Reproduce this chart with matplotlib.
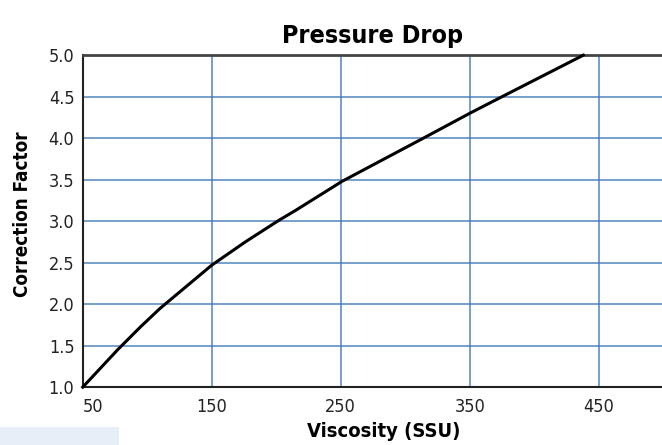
#Pressure drop correction factor vs viscosity chart
import matplotlib
matplotlib.use('Agg')
import matplotlib.pyplot as plt
from matplotlib.patches import Rectangle

# values
viscosity = [50, 77, 95, 110, 150, 176, 202, 215, 251, 314, 350, 375, 438]
correction = [1.0, 1.45, 1.73, 1.95, 2.47, 2.75, 3.01, 3.13, 3.48, 4.0, 4.30, 4.5, 5.0]

x_ticks = [50, 150, 250, 350, 450]
y_ticks = [1.0, 1.5, 2.0, 2.5, 3.0, 3.5, 4.0, 4.5, 5.0]

plt.rcParams['font.family'] = ['DejaVu Sans']
plt.rcParams['font.stretch'] = 'condensed'

grid_blue = '#3f78b9'

fig = plt.figure(figsize=(6.62, 4.45), dpi=100)
ax = fig.add_axes([0.125, 0.130, 0.877, 0.746])

ax.plot(viscosity, correction, color='black', lw=2.2, solid_joinstyle='round',
        zorder=3, clip_on=False)

ax.set_xlim(50, 500)
ax.set_ylim(1.0, 5.0)
ax.set_xticks(x_ticks)
ax.set_yticks(y_ticks)
ax.set_yticklabels(['%.1f' % v for v in y_ticks])
ax.grid(True, color=grid_blue, lw=1.1, alpha=0.9)
ax.set_axisbelow(True)
ax.tick_params(length=0, labelsize=13, labelcolor='#222222')
ax.tick_params(axis='x', pad=8)
ax.tick_params(axis='y', pad=6)
ax.get_xticklabels()[0].set_horizontalalignment('left')

for side in ['left', 'bottom']:
    ax.spines[side].set_color('#222222')
    ax.spines[side].set_linewidth(1.5)
ax.spines['top'].set_color('#444444')
ax.spines['top'].set_linewidth(2.0)
ax.spines['right'].set_visible(False)

ax.set_title('Pressure Drop', fontsize=18, fontweight='bold', pad=9)
ax.set_xlabel('Viscosity (SSU)', fontsize=14.5, fontweight='bold')
ax.set_ylabel('Correction Factor', fontsize=13.5, fontweight='bold')
ax.xaxis.set_label_coords(0.518, -0.105)
ax.yaxis.set_label_coords(-0.088, 0.52)

# faint box in the lower left corner of the original image
fig.patches.append(Rectangle((0, 0), 119 / 662, 18 / 445, transform=fig.transFigure,
                             facecolor='#e8eef7', edgecolor='none'))

fig.savefig('out.png', dpi=100)
